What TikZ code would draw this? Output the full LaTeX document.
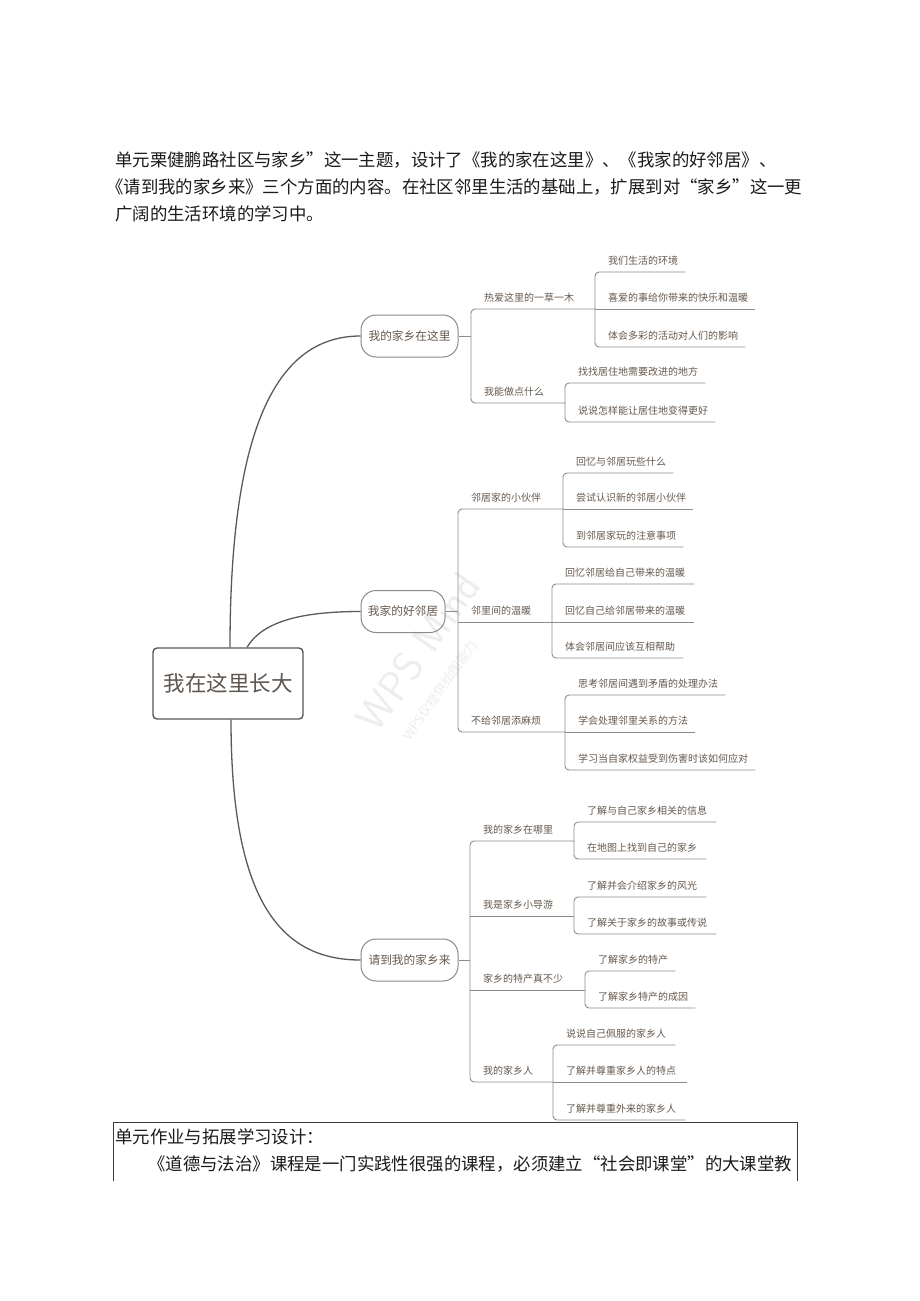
\documentclass[tikz,border=0pt]{standalone}
\usepackage{graphicx}
\usepackage{fontspec}
\setmainfont{Noto Sans CJK SC}
\definecolor{linegray}{HTML}{8C8C8C}
\definecolor{curvegray}{HTML}{5A5A5A}
\definecolor{nodegray}{HTML}{8A8A8A}
\definecolor{mmtext}{HTML}{66594E}
\definecolor{rootgray}{HTML}{555555}
\definecolor{roottext}{HTML}{5E564F}
\definecolor{wmgray}{HTML}{EDEDED}
\definecolor{boxline}{HTML}{3A3A3A}
\definecolor{paratext}{HTML}{1A1A1A}
\tikzset{
  mline/.style={draw=linegray, line width=0.9pt},
  mmcurve/.style={draw=curvegray, line width=1.3pt},
  leaf/.style={anchor=south west, inner xsep=0pt, inner ysep=7pt, text width=#1pt,
    text height=8pt, text depth=0pt, font=\fontsize{10pt}{12pt}\selectfont, text=mmtext,
    execute at begin node={\hspace*{13pt}}},
  branchnode/.style={draw=nodegray, line width=1pt, rounded corners=15pt, minimum width=97pt,
    minimum height=42pt, inner sep=0pt, font=\fontsize{11.7pt}{14pt}\selectfont, text=mmtext},
  rootnode/.style={draw=rootgray, line width=1.4pt, rounded corners=4pt, minimum width=150pt,
    minimum height=71pt, inner sep=0pt, font=\fontsize{21.5pt}{24pt}\selectfont, text=roottext},
  para/.style={anchor=west, inner sep=0pt, text=paratext, font=\fontsize{17.4pt}{20pt}\selectfont}
}
\begin{document}
\begin{tikzpicture}[x=1pt, y=-1pt]
\useasboundingbox (0,0) rectangle (920,1301);
\fill[white] (0,0) rectangle (920,1301);

% top paragraph
\node[para] (t1) at (115,160) {单元栗健鹏路社区与家乡”这一主题，设计了《我的家在这里》、《我家的好邻居》、};
\node[para] (t2) at (106,187) {《请到我的家乡来》三个方面的内容。在社区邻里生活的基础上，扩展到对“家乡”这一更};
\node[para] (t3) at (115,214) {广阔的生活环境的学习中。};

% watermark
\node[rotate=55, text=wmgray, font=\fontsize{42pt}{42pt}\sffamily] (wm1) at (418,652) {WPS Mind};
\node[rotate=55, text=wmgray, font=\fontsize{13pt}{13pt}\selectfont] (wm2) at (440,690) {WPS仅提供绘图能力};

% root and branches
\node[rootnode] (root) at (228,683.5) {我在这里长大};
\node[branchnode] (b1) at (409.5,336) {我的家乡在这里};
\node[branchnode, minimum width=84pt] (b2) at (403,611.5) {我家的好邻居};
\node[branchnode] (b3) at (409.5,960) {请到我的家乡来};

\draw[mmcurve] ([xshift=2pt]root.north) .. controls (230,420) and (280,336) .. (b1.west);
\draw[mmcurve] ([xshift=19pt]root.north) .. controls (262,622) and (300,611.5) .. (b2.west);
\draw[mmcurve] ([xshift=3pt]root.south) .. controls (231,900) and (280,960) .. (b3.west);

% ---------- branch 1
\node[leaf=124] (p11) at (471,309) {热爱这里的一草一木};
\node[leaf=94]  (p12) at (471,403) {我能做点什么};
\node[leaf=90]  (c111) at (595,272) {我们生活的环境};
\node[leaf=160] (c112) at (595,309) {喜爱的事给你带来的快乐和温暖};
\node[leaf=150] (c113) at (595,347) {体会多彩的活动对人们的影响};
\node[leaf=140] (c121) at (565,383) {找找居住地需要改进的地方};
\node[leaf=150] (c122) at (565,422) {说说怎样能让居住地变得更好};

\draw[mline] (b1.east) -- (b1.east -| p11.south west);
\draw[mline, rounded corners=4pt] (p11.south east) -- (p11.south west) -- (p12.south west) -- (p12.south east);
\draw[mline, rounded corners=4pt] (c111.south east) -- (c111.south west) -- (c113.south west) -- (c113.south east);
\draw[mline] (c112.south west) -- (c112.south east);
\draw[mline, rounded corners=4pt] (c121.south east) -- (c121.south west) -- (c122.south west) -- (c122.south east);

% ---------- branch 2
\node[leaf=105] (p21) at (458,509) {邻居家的小伙伴};
\node[leaf=94]  (p22) at (458,622) {邻里间的温暖};
\node[leaf=107] (p23) at (458,732) {不给邻居添麻烦};
\node[leaf=110] (c211) at (563,473) {回忆与邻居玩些什么};
\node[leaf=130] (c212) at (563,509) {尝试认识新的邻居小伙伴};
\node[leaf=120] (c213) at (563,547) {到邻居家玩的注意事项};
\node[leaf=142] (c221) at (552,584) {回忆邻居给自己带来的温暖};
\node[leaf=142] (c222) at (552,622) {回忆自己给邻居带来的温暖};
\node[leaf=131] (c223) at (552,658) {体会邻居间应该互相帮助};
\node[leaf=160] (c231) at (565,695) {思考邻居间遇到矛盾的处理办法};
\node[leaf=130] (c232) at (565,732) {学会处理邻里关系的方法};
\node[leaf=190] (c233) at (565,770) {学习当自家权益受到伤害时该如何应对};

\draw[mline] (b2.east) -- (b2.east -| p21.south west);
\draw[mline, rounded corners=4pt] (p21.south east) -- (p21.south west) -- (p23.south west) -- (p23.south east);
\draw[mline] (p22.south west) -- (p22.south east);
\draw[mline, rounded corners=4pt] (c211.south east) -- (c211.south west) -- (c213.south west) -- (c213.south east);
\draw[mline] (c212.south west) -- (c212.south east);
\draw[mline, rounded corners=4pt] (c221.south east) -- (c221.south west) -- (c223.south west) -- (c223.south east);
\draw[mline] (c222.south west) -- (c222.south east);
\draw[mline, rounded corners=4pt] (c231.south east) -- (c231.south west) -- (c233.south west) -- (c233.south east);
\draw[mline] (c232.south west) -- (c232.south east);

% ---------- branch 3
\node[leaf=104] (p31) at (470,841) {我的家乡在哪里};
\node[leaf=104] (p32) at (470,916) {我是家乡小导游};
\node[leaf=115] (p33) at (470,990) {家乡的特产真不少};
\node[leaf=83]  (p34) at (470,1082) {我的家乡人};
\node[leaf=142] (c311) at (574,822) {了解与自己家乡相关的信息};
\node[leaf=132] (c312) at (574,859) {在地图上找到自己的家乡};
\node[leaf=132] (c321) at (574,897) {了解并会介绍家乡的风光};
\node[leaf=142] (c322) at (574,934) {了解关于家乡的故事或传说};
\node[leaf=90]  (c331) at (585,971) {了解家乡的特产};
\node[leaf=110] (c332) at (585,1008) {了解家乡特产的成因};
\node[leaf=122] (c341) at (553,1045) {说说自己佩服的家乡人};
\node[leaf=134] (c342) at (553,1082) {了解并尊重家乡人的特点};
\node[leaf=132] (c343) at (553,1120) {了解并尊重外来的家乡人};

\draw[mline] (b3.east) -- (b3.east -| p31.south west);
\draw[mline, rounded corners=4pt] (p31.south east) -- (p31.south west) -- (p34.south west) -- (p34.south east);
\draw[mline] (p32.south west) -- (p32.south east);
\draw[mline] (p33.south west) -- (p33.south east);
\draw[mline, rounded corners=4pt] (c311.south east) -- (c311.south west) -- (c312.south west) -- (c312.south east);
\draw[mline, rounded corners=4pt] (c321.south east) -- (c321.south west) -- (c322.south west) -- (c322.south east);
\draw[mline, rounded corners=4pt] (c331.south east) -- (c331.south west) -- (c332.south west) -- (c332.south east);
\draw[mline, rounded corners=4pt] (c341.south east) -- (c341.south west) -- (c343.south west) -- (c343.south east);
\draw[mline] (c342.south west) -- (c342.south east);

% bottom box
\draw[boxline, line width=0.9pt] (113,1181) -- (113,1122) -- (797,1122) -- (797,1181);
\node[para] (h1) at (115,1137) {单元作业与拓展学习设计：};
\node[para] (h2) at (148,1164) {《道德与法治》课程是一门实践性很强的课程，必须建立“社会即课堂”的大课堂教};
\end{tikzpicture}
\end{document}
